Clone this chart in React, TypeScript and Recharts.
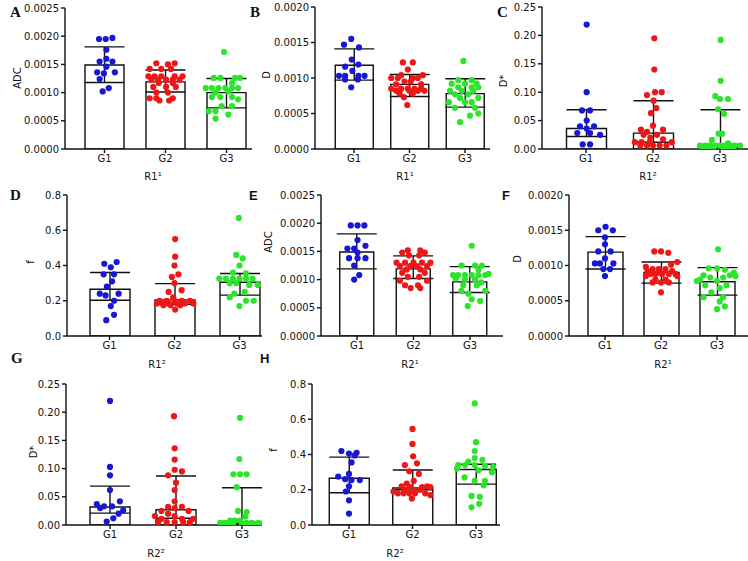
import React from 'react';
import { ComposedChart, Bar, Scatter, XAxis, YAxis, ErrorBar } from 'recharts';

type Pt = [number, number]; // [horizontal jitter in category units, value]

const FONT = '"DejaVu Sans", Verdana, sans-serif';
const COLORS = ['#1717d4', '#ee1616', '#2de42d'];
const groups = ['G1', 'G2', 'G3'];

const adcTicks = [0, 0.0005, 0.001, 0.0015, 0.002, 0.0025];
const dTicks = [0, 0.0005, 0.001, 0.0015, 0.002];
const dStarTicks = [0, 0.05, 0.1, 0.15, 0.2, 0.25];
const fTicks = [0, 0.2, 0.4, 0.6, 0.8];

// A: ADC, R1
const aMean = [0.00149, 0.00119, 0.001];
const aLow = [0.00118, 0.00101, 0.00073];
const aHigh = [0.00181, 0.0014, 0.00125];
const aG1: Pt[] = [[-0.09, 0.00195], [0.02, 0.00195], [0.13, 0.00197], [0.03, 0.00176], [0.03, 0.0016], [-0.08, 0.00155], [0.13, 0.00155], [0.03, 0.00146], [-0.12, 0.00136], [-0.01, 0.00134], [0.17, 0.00136], [-0.08, 0.00124], [0.07, 0.00108], [-0.03, 0.00102]];
const aG2: Pt[] = [[-0.15, 0.00152], [0.15, 0.00152], [0.04, 0.0015], [-0.26, 0.00142], [-0.07, 0.00142], [0.09, 0.00142], [-0.28, 0.00129], [-0.18, 0.00129], [-0.07, 0.00129], [0.15, 0.00129], [0.28, 0.00129], [-0.23, 0.00123], [-0.12, 0.00123], [0.01, 0.00123], [0.12, 0.00123], [0.23, 0.00123], [-0.11, 0.00117], [0.12, 0.00117], [-0.2, 0.0011], [0.01, 0.0011], [0.17, 0.0011], [-0.15, 0.001], [0.04, 0.001], [-0.26, 0.0009], [-0.15, 0.0009], [0.12, 0.0009], [-0.1, 0.00086], [0.06, 0.00086]];
const aG3: Pt[] = [[-0.04, 0.00172], [-0.21, 0.00126], [-0.1, 0.00126], [0.14, 0.00126], [0.22, 0.00126], [0.09, 0.00117], [-0.34, 0.00108], [-0.24, 0.00108], [-0.13, 0.00108], [-0.02, 0.00108], [0.09, 0.00108], [0.19, 0.00108], [0.03, 0.00102], [-0.18, 0.001], [-0.24, 0.00092], [-0.1, 0.00092], [0.09, 0.00092], [0.19, 0.00088], [-0.08, 0.00076], [0.09, 0.00076], [-0.29, 0.00067], [-0.18, 0.00067], [0.03, 0.00061], [-0.18, 0.00054]];

// B: D, R1
const bMean = [0.00118, 0.00091, 0.00078];
const bLow = [0.00097, 0.00074, 0.00059];
const bHigh = [0.00141, 0.00105, 0.00099];
const bG1: Pt[] = [[-0.05, 0.00155], [-0.18, 0.00147], [0.09, 0.00143], [-0.04, 0.00126], [-0.16, 0.00116], [0.08, 0.00119], [-0.03, 0.0011], [-0.27, 0.00103], [-0.16, 0.00103], [0.08, 0.00103], [0.19, 0.00103], [-0.16, 0.00098], [0.07, 0.00098], [-0.05, 0.00087]];
const bG2: Pt[] = [[-0.12, 0.00122], [0.06, 0.00122], [-0.03, 0.00112], [-0.15, 0.00104], [0.24, 0.00104], [-0.33, 0.001], [-0.21, 0.001], [0.06, 0.001], [0.15, 0.001], [-0.09, 0.00095], [0.02, 0.00095], [-0.24, 0.00091], [0.21, 0.00091], [-0.33, 0.00085], [-0.15, 0.00085], [-0.03, 0.00085], [0.09, 0.00085], [0.21, 0.00085], [-0.24, 0.00082], [0, 0.00082], [0.15, 0.00082], [0.27, 0.00082], [-0.18, 0.00078], [0.06, 0.00078], [-0.1, 0.00073], [-0.04, 0.00062]];
const bG3: Pt[] = [[-0.03, 0.00124], [-0.12, 0.00097], [0.12, 0.00097], [-0.24, 0.00092], [0, 0.00092], [0.21, 0.00092], [-0.12, 0.00087], [0.12, 0.00087], [0.24, 0.00087], [-0.27, 0.00082], [-0.06, 0.00082], [0.15, 0.00082], [-0.18, 0.00077], [0.06, 0.00077], [-0.09, 0.00072], [0.24, 0.00072], [-0.29, 0.00066], [0, 0.00066], [0.12, 0.00066], [-0.18, 0.00058], [0.18, 0.00058], [0.24, 0.0005], [0.09, 0.00047], [-0.09, 0.00038]];

// C: D*, R1
const cMean = [0.036, 0.028, 0.008];
const cLow = [0.022, 0.012, 0.003];
const cHigh = [0.069, 0.085, 0.069];
const cG1: Pt[] = [[0.01, 0.219], [0.01, 0.1], [-0.06, 0.068], [0.06, 0.068], [0.01, 0.05], [-0.09, 0.04], [0.12, 0.04], [0.01, 0.036], [-0.13, 0.028], [0.06, 0.028], [0.21, 0.025], [-0.05, 0.008], [0.06, 0.008]];
const cG2: Pt[] = [[0.02, 0.195], [0.02, 0.14], [0.03, 0.1], [0.13, 0.1], [-0.09, 0.095], [0.01, 0.085], [0.05, 0.072], [-0.03, 0.063], [0, 0.041], [-0.18, 0.034], [0.15, 0.034], [-0.09, 0.03], [-0.14, 0.025], [0.06, 0.025], [-0.04, 0.02], [0.15, 0.017], [-0.27, 0.012], [-0.17, 0.012], [-0.05, 0.012], [0.28, 0.012], [-0.19, 0.006], [-0.09, 0.006], [0, 0.006], [0.1, 0.006], [0.2, 0.006]];
const cG3: Pt[] = [[0.01, 0.192], [0.01, 0.12], [-0.07, 0.093], [0.12, 0.088], [0, 0.088], [-0.03, 0.07], [0.06, 0.062], [-0.02, 0.027], [0.03, 0.027], [-0.12, 0.016], [0.12, 0.01], [-0.3, 0.006], [-0.22, 0.006], [-0.15, 0.006], [-0.07, 0.006], [0, 0.006], [0.07, 0.006], [0.15, 0.006], [0.22, 0.006], [0.3, 0.006], [-0.25, 0.003], [-0.17, 0.003], [-0.1, 0.003], [0.05, 0.003], [0.12, 0.003], [0.2, 0.003]];

// D: f, R1
const dMean = [0.265, 0.205, 0.305];
const dLow = [0.203, 0.18, 0.232];
const dHigh = [0.36, 0.297, 0.355];
const dG1: Pt[] = [[0.11, 0.42], [-0.08, 0.41], [0.02, 0.39], [-0.09, 0.35], [0.07, 0.35], [0.04, 0.31], [-0.04, 0.28], [-0.15, 0.24], [0.14, 0.24], [-0.06, 0.23], [0.07, 0.2], [0.02, 0.17], [0.07, 0.12], [-0.05, 0.09]];
const dG2: Pt[] = [[0.01, 0.55], [0.01, 0.45], [0, 0.4], [0.06, 0.35], [-0.04, 0.335], [0, 0.3], [0.11, 0.26], [-0.09, 0.25], [-0.02, 0.22], [-0.23, 0.2], [-0.12, 0.2], [0, 0.2], [0.11, 0.2], [0.24, 0.2], [-0.27, 0.185], [-0.18, 0.185], [-0.09, 0.185], [0.04, 0.185], [0.16, 0.185], [0.29, 0.185], [-0.17, 0.175], [-0.06, 0.175], [0.09, 0.175], [0.01, 0.15]];
const dG3: Pt[] = [[-0.01, 0.67], [-0.05, 0.46], [0.05, 0.44], [0, 0.4], [-0.1, 0.36], [0.1, 0.355], [-0.31, 0.325], [-0.21, 0.325], [-0.1, 0.325], [0, 0.325], [0.1, 0.325], [0.2, 0.325], [-0.15, 0.3], [-0.05, 0.3], [0.15, 0.29], [0.28, 0.29], [0.08, 0.25], [-0.08, 0.24], [-0.15, 0.22], [0.1, 0.2], [0.22, 0.2], [0, 0.17]];

// E: ADC, R2
const eMean = [0.00149, 0.00119, 0.00096];
const eLow = [0.00119, 0.00102, 0.00077];
const eHigh = [0.00181, 0.00142, 0.00123];
const eG1: Pt[] = [[-0.11, 0.00196], [0.01, 0.00196], [0.13, 0.00196], [0.01, 0.0017], [0.15, 0.0016], [-0.17, 0.00155], [-0.05, 0.00155], [0.01, 0.00148], [-0.14, 0.00138], [0.01, 0.00138], [0.15, 0.00138], [-0.05, 0.00125], [0.04, 0.00108], [-0.05, 0.001]];
const eG2: Pt[] = [[-0.1, 0.00152], [0.12, 0.00152], [-0.2, 0.00148], [0.2, 0.00148], [-0.08, 0.00143], [0.1, 0.00143], [-0.3, 0.0013], [-0.15, 0.0013], [0, 0.0013], [0.15, 0.0013], [0.3, 0.0013], [-0.24, 0.00124], [-0.06, 0.00124], [0.06, 0.00124], [0.24, 0.00124], [-0.12, 0.00118], [0.12, 0.00118], [-0.2, 0.00112], [0.2, 0.00112], [-0.1, 0.00105], [0.1, 0.00105], [-0.24, 0.00098], [0.24, 0.00098], [-0.15, 0.0009], [0.08, 0.0009], [-0.05, 0.00085], [0.12, 0.00085]];
const eG3: Pt[] = [[0.03, 0.0016], [-0.15, 0.00125], [0.09, 0.00125], [0.21, 0.00125], [0.15, 0.00118], [0.33, 0.0011], [-0.3, 0.00108], [-0.21, 0.00108], [-0.09, 0.00108], [0.03, 0.00108], [0.15, 0.00108], [0.27, 0.00108], [-0.25, 0.00102], [-0.09, 0.001], [0.09, 0.001], [0.2, 0.00095], [-0.12, 0.0009], [0.12, 0.0009], [-0.15, 0.0008], [0.27, 0.0008], [-0.03, 0.00075], [0.03, 0.00065], [0.18, 0.00062], [-0.04, 0.00053]];

// F: D, R2
const fMean = [0.00119, 0.0009, 0.00077];
const fLow = [0.00095, 0.00075, 0.00058];
const fHigh = [0.00141, 0.00105, 0.00097];
const fG1: Pt[] = [[0.01, 0.00155], [-0.12, 0.0015], [0.14, 0.0015], [0, 0.0014], [0, 0.0013], [-0.12, 0.0012], [0.1, 0.0012], [0, 0.0011], [-0.18, 0.00103], [-0.09, 0.00103], [0.15, 0.00103], [-0.03, 0.00095], [0.09, 0.00095], [0, 0.00085]];
const fG2: Pt[] = [[-0.12, 0.0012], [0, 0.0012], [0.13, 0.00118], [0.29, 0.00105], [0.18, 0.00101], [-0.27, 0.00098], [-0.15, 0.00095], [-0.04, 0.00095], [0.08, 0.00095], [-0.24, 0.00092], [0.2, 0.00092], [-0.05, 0.0009], [-0.18, 0.00088], [-0.1, 0.00088], [0.02, 0.00088], [0.14, 0.00088], [0.26, 0.00088], [-0.27, 0.00085], [0.29, 0.00085], [-0.1, 0.0008], [0.08, 0.0008], [-0.15, 0.00076], [0, 0.00076], [0.14, 0.00076], [0, 0.00062]];
const fG3: Pt[] = [[0.02, 0.00123], [-0.15, 0.00096], [0, 0.00096], [0.14, 0.00094], [0.3, 0.0009], [-0.24, 0.00086], [0.23, 0.00086], [0.33, 0.00085], [-0.12, 0.00083], [0.11, 0.00083], [-0.3, 0.0008], [-0.36, 0.00078], [0, 0.00078], [-0.21, 0.00072], [0.17, 0.00072], [0.05, 0.00068], [-0.1, 0.00062], [-0.24, 0.00055], [0.11, 0.00055], [0.05, 0.00049], [0.14, 0.00042], [0, 0.00038]];

// G: D*, R2
const gMean = [0.032, 0.027, 0.006];
const gLow = [0.021, 0.012, 0.003];
const gHigh = [0.069, 0.087, 0.066];
const gG1: Pt[] = [[0, 0.22], [0, 0.103], [0, 0.088], [0, 0.062], [0.15, 0.042], [-0.2, 0.037], [-0.09, 0.033], [0.03, 0.033], [-0.15, 0.03], [0.2, 0.026], [0.13, 0.02], [0.05, 0.012], [-0.05, 0.006]];
const gG2: Pt[] = [[-0.03, 0.193], [-0.02, 0.136], [-0.02, 0.116], [-0.02, 0.098], [0.09, 0.095], [-0.12, 0.088], [0, 0.075], [-0.02, 0.062], [-0.02, 0.042], [-0.12, 0.032], [0.09, 0.032], [-0.02, 0.03], [-0.22, 0.025], [0.19, 0.025], [-0.12, 0.02], [-0.32, 0.016], [-0.02, 0.016], [-0.22, 0.011], [0.09, 0.011], [0.26, 0.011], [-0.27, 0.005], [-0.14, 0.005], [-0.02, 0.005], [0.11, 0.005], [0.21, 0.005]];
const gG3: Pt[] = [[-0.03, 0.19], [-0.04, 0.117], [-0.13, 0.09], [-0.03, 0.09], [0.07, 0.09], [-0.08, 0.067], [-0.06, 0.025], [0.07, 0.023], [0.05, 0.015], [-0.18, 0.008], [-0.11, 0.008], [-0.03, 0.008], [-0.33, 0.004], [-0.26, 0.004], [-0.13, 0.004], [0.07, 0.004], [0.15, 0.004], [0.25, 0.004], [-0.2, 0.002], [0, 0.002], [0.2, 0.002], [0.3, 0.002]];

// H: f, R2
const hMean = [0.265, 0.21, 0.315];
const hLow = [0.183, 0.2, 0.232];
const hHigh = [0.385, 0.312, 0.345];
const hG1: Pt[] = [[-0.12, 0.42], [0.12, 0.41], [0, 0.405], [0.09, 0.395], [0.04, 0.355], [0, 0.29], [-0.17, 0.275], [-0.06, 0.26], [0.04, 0.255], [0.17, 0.255], [0, 0.22], [-0.05, 0.19], [0, 0.14], [0, 0.065]];
const hG2: Pt[] = [[0, 0.545], [0, 0.46], [0.01, 0.39], [0.07, 0.35], [-0.12, 0.34], [-0.05, 0.305], [0.1, 0.29], [0.02, 0.25], [-0.09, 0.235], [-0.17, 0.22], [0.23, 0.22], [-0.04, 0.215], [0.15, 0.215], [0.28, 0.215], [-0.12, 0.2], [0.02, 0.2], [0.12, 0.2], [-0.3, 0.19], [-0.23, 0.18], [-0.14, 0.18], [-0.05, 0.18], [0.04, 0.18], [0.2, 0.18], [0.28, 0.17], [-0.01, 0.15]];
const hG3: Pt[] = [[-0.02, 0.69], [0, 0.47], [-0.02, 0.42], [-0.02, 0.38], [0.1, 0.37], [-0.12, 0.36], [-0.28, 0.34], [-0.17, 0.34], [-0.02, 0.34], [0.14, 0.335], [0.27, 0.33], [-0.3, 0.32], [0.04, 0.31], [0.25, 0.3], [-0.18, 0.27], [-0.02, 0.25], [0.14, 0.25], [0.12, 0.225], [-0.07, 0.165], [0.06, 0.16], [0.05, 0.12], [-0.07, 0.1]];

interface PanelCfg {
  means: number[];
  lows: number[];
  highs: number[];
  pts: Pt[][];
  ticks: number[];
  digits: number;
  axisX: number;
  right: number;
  top: number;
  bottom: number;
  c1: number;
  s: number;
  barW: number;
}

const panels: PanelCfg[] = [
  { means: aMean, lows: aLow, highs: aHigh, pts: [aG1, aG2, aG3], ticks: adcTicks, digits: 4, axisX: 65, right: 252, top: 8, bottom: 149, c1: 104.5, s: 61, barW: 39 },
  { means: bMean, lows: bLow, highs: bHigh, pts: [bG1, bG2, bG3], ticks: dTicks, digits: 4, axisX: 315, right: 490, top: 7, bottom: 149, c1: 354, s: 55.5, barW: 38 },
  { means: cMean, lows: cLow, highs: cHigh, pts: [cG1, cG2, cG3], ticks: dStarTicks, digits: 2, axisX: 542, right: 748, top: 7, bottom: 149, c1: 586, s: 67, barW: 40 },
  { means: dMean, lows: dLow, highs: dHigh, pts: [dG1, dG2, dG3], ticks: fTicks, digits: 1, axisX: 67, right: 262, top: 195, bottom: 336, c1: 109.5, s: 65, barW: 40 },
  { means: eMean, lows: eLow, highs: eHigh, pts: [eG1, eG2, eG3], ticks: adcTicks, digits: 4, axisX: 321, right: 503, top: 195, bottom: 336, c1: 357, s: 56.5, barW: 34 },
  { means: fMean, lows: fLow, highs: fHigh, pts: [fG1, fG2, fG3], ticks: dTicks, digits: 4, axisX: 569, right: 748, top: 195, bottom: 336, c1: 605, s: 56, barW: 35 },
  { means: gMean, lows: gLow, highs: gHigh, pts: [gG1, gG2, gG3], ticks: dStarTicks, digits: 2, axisX: 66, right: 262, top: 384, bottom: 525, c1: 110, s: 66, barW: 40 },
  { means: hMean, lows: hLow, highs: hHigh, pts: [hG1, hG2, hG3], ticks: fTicks, digits: 1, axisX: 312, right: 500, top: 384, bottom: 525, c1: 349, s: 63.5, barW: 40 },
];

const letters = [
  { t: 'A', x: 10, y: 17, serif: true },
  { t: 'B', x: 250, y: 17, serif: true },
  { t: 'C', x: 497, y: 17, serif: true },
  { t: 'D', x: 10, y: 200, serif: true },
  { t: 'E', x: 249, y: 200, serif: false },
  { t: 'F', x: 502, y: 200, serif: false },
  { t: 'G', x: 11, y: 363, serif: true },
  { t: 'H', x: 260, y: 363, serif: false },
];

const yLabels = [
  { t: 'ADC', x: 17, y: 78 },
  { t: 'D', x: 266, y: 75 },
  { t: 'D*', x: 503, y: 81 },
  { t: 'f', x: 30, y: 262 },
  { t: 'ADC', x: 268, y: 242 },
  { t: 'D', x: 517, y: 259 },
  { t: 'D*', x: 33, y: 452 },
  { t: 'f', x: 273, y: 450 },
];

const xLabels = [
  { t: 'R1¹', x: 153, y: 180 },
  { t: 'R1¹', x: 405, y: 180 },
  { t: 'R1²', x: 648, y: 180 },
  { t: 'R1²', x: 157, y: 368 },
  { t: 'R2¹', x: 410, y: 368 },
  { t: 'R2¹', x: 663, y: 368 },
  { t: 'R2²', x: 156, y: 557 },
  { t: 'R2²', x: 395, y: 557 },
];

const Dot = (color: string) => (p: any) => <circle cx={p.cx} cy={p.cy} r={3.1} fill={color} />;

function Panel({ cfg }: { cfg: PanelCfg }) {
  const yw = 60;
  const xh = 24;
  const left = cfg.axisX - yw;
  const boxTop = cfg.top - 8;
  const width = cfg.right - left;
  const height = cfg.bottom - boxTop + xh;
  const d0 = 1 - (cfg.c1 - cfg.axisX) / cfg.s;
  const d1 = d0 + (cfg.right - cfg.axisX) / cfg.s;
  // band axis for the bars, lined up with the numeric axis used by the dots
  const padL = cfg.c1 - cfg.s / 2 - cfg.axisX;
  const padR = cfg.right - (cfg.c1 + 2.5 * cfg.s);
  const rows = groups.map((g, i) => ({
    name: g,
    x: i + 1,
    y: cfg.means[i],
    err: [cfg.means[i] - cfg.lows[i], cfg.highs[i] - cfg.means[i]],
  }));
  const series = cfg.pts.map((arr, i) => arr.map(([dx, v]) => ({ x: i + 1 + dx, y: v })));
  const yMax = cfg.ticks[cfg.ticks.length - 1];
  const tick = { fill: '#111', fontSize: 10, fontFamily: FONT };
  const line = { stroke: '#111', strokeWidth: 1.4 };

  return (
    <div style={{ position: 'absolute', left, top: boxTop }}>
      <ComposedChart width={width} height={height} data={rows} margin={{ top: 8, right: 0, bottom: 0, left: 0 }}>
        <XAxis xAxisId="cat" type="category" dataKey="name" hide height={0} padding={{ left: padL, right: padR }} />
        <XAxis xAxisId="num" type="number" dataKey="x" domain={[d0, d1]} allowDataOverflow ticks={[1, 2, 3]} interval={0}
          tickFormatter={(v) => groups[Math.round(v) - 1]} height={xh} tick={tick} axisLine={line} tickLine={line}
          tickSize={4} tickMargin={2} />
        <YAxis type="number" dataKey="y" domain={[0, yMax]} allowDataOverflow ticks={cfg.ticks} interval={0} width={yw}
          tickFormatter={(v) => Number(v).toFixed(cfg.digits)} tick={tick} axisLine={line} tickLine={line}
          tickSize={4} tickMargin={2} />
        <Bar xAxisId="cat" dataKey="y" fill="#fff" stroke="#111" strokeWidth={1.4} barSize={cfg.barW} isAnimationActive={false}>
          <ErrorBar dataKey="err" width={20} stroke="#111" strokeWidth={1.4} direction="y" />
        </Bar>
        {series.map((d, i) => (
          <Scatter key={i} xAxisId="num" data={d} fill={COLORS[i]} shape={Dot(COLORS[i])} isAnimationActive={false} />
        ))}
      </ComposedChart>
    </div>
  );
}

export default function App() {
  return (
    <div style={{ position: 'absolute', left: 0, top: 0, width: 748, height: 561, background: '#fff', overflow: 'hidden' }}>
      {panels.map((p, i) => <Panel key={i} cfg={p} />)}
      <svg width={748} height={561} style={{ position: 'absolute', left: 0, top: 0, pointerEvents: 'none' }}>
        {letters.map((l) => (
          <text key={l.t} x={l.x} y={l.y} fontSize={l.serif ? 15 : 13} fontWeight="bold"
            fontFamily={l.serif ? '"Liberation Serif", serif' : '"Liberation Sans", sans-serif'} fill="#111">
            {l.t}
          </text>
        ))}
        {yLabels.map((l, i) => (
          <text key={i} x={l.x} y={l.y} fontSize={10} fontFamily={FONT} fill="#111" textAnchor="middle"
            dominantBaseline="central" transform={`rotate(-90 ${l.x} ${l.y})`}>
            {l.t}
          </text>
        ))}
        {xLabels.map((l, i) => (
          <text key={i} x={l.x} y={l.y} fontSize={10} fontFamily={FONT} fill="#111" textAnchor="middle">
            {l.t}
          </text>
        ))}
      </svg>
    </div>
  );
}
